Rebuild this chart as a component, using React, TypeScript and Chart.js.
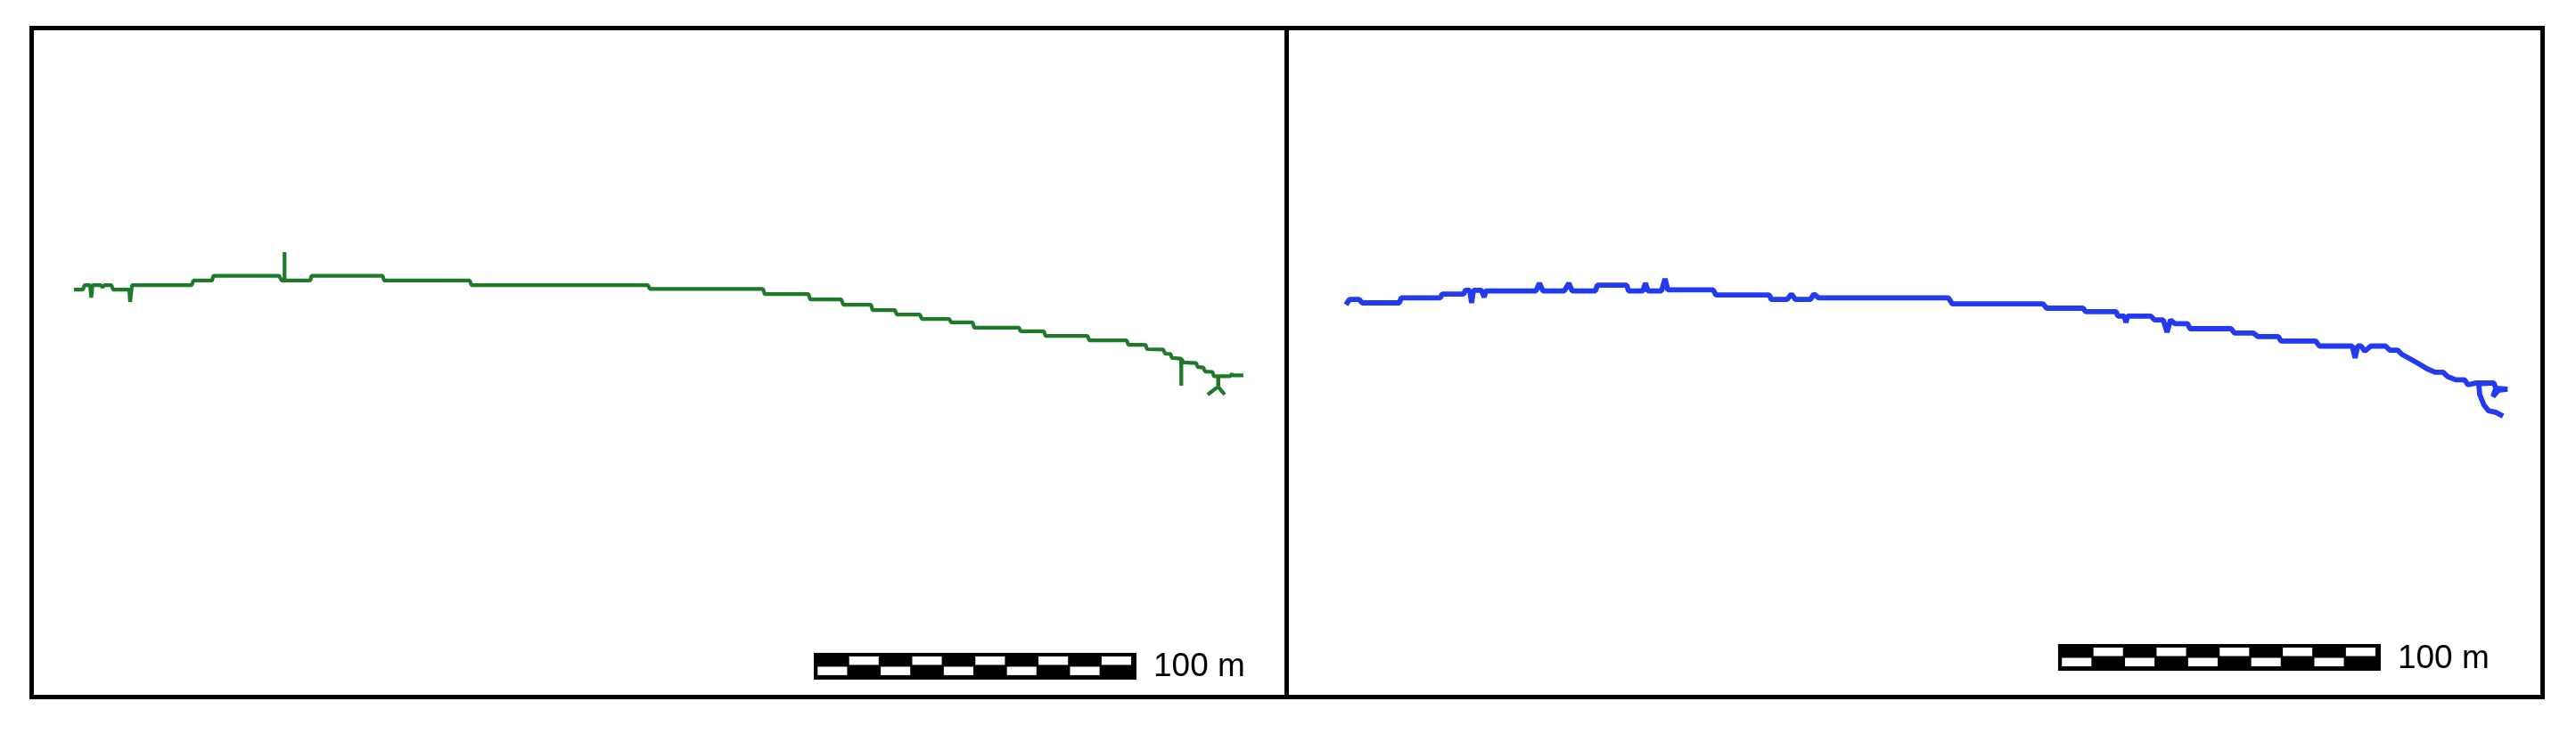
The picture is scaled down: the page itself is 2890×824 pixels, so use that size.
import { useEffect, useRef } from "react";
import { Chart, registerables } from "chart.js";

Chart.register(...registerables);

// map scale: pixels per metre on the rendered map
const PX_PER_M = 3.54;
const PANEL_H = 746;

// Track A (green) — easting / northing in metres from panel's lower-left corner
const trackAx = [
  12.7, 15.5, 16.1, 17.8, 18.2, 18.6, 21.2, 21.8, 22.3, 24.6, 25.1, 30.2, 30.5, 31.1,
  50.0, 50.6, 56.5, 56.9, 77.7, 78.5, 79.4, 79.4, 79.5, 87.6, 88.0, 110.5, 111.0,
  138.1, 138.7, 194.6, 195.2, 231.1, 231.6, 245.5, 246.0, 255.9, 256.5, 265.3, 265.8,
  272.9, 273.5, 280.8, 281.4, 290.1, 290.7, 297.5, 298.0, 312.2, 312.7, 320.1, 320.6,
  333.9, 334.5, 346.3, 346.9, 352.3, 352.8, 357.9, 358.5, 360.2, 360.7, 363.6, 363.6,
  363.7, 364.4, 368.4, 368.8, 370.6, 371.2, 373.5, 374.0, 375.3, 375.3, 372.0, 375.3,
  377.4, 375.3, 375.4, 379.1, 379.7, 379.9, 383.3,
];
const trackAy = [
  128.5, 128.5, 129.9, 129.9, 126.0, 129.9, 129.9, 129.2, 129.9, 129.9, 128.5, 128.5, 124.6, 129.9,
  129.9, 131.4, 131.4, 132.9, 132.9, 131.4, 131.4, 140.4, 131.4, 131.4, 132.9, 132.9, 131.4,
  131.4, 129.9, 129.9, 128.7, 128.7, 127.1, 127.1, 125.4, 125.4, 123.7, 123.7, 122.0,
  122.0, 120.6, 120.6, 119.2, 119.2, 118.1, 118.1, 116.4, 116.4, 115.3, 115.3, 113.8,
  113.8, 112.4, 112.4, 111.0, 111.0, 109.6, 109.5, 108.2, 108.1, 106.8, 106.6, 98.0,
  106.5, 105.4, 105.2, 104.0, 103.8, 102.5, 102.4, 101.0, 101.0, 97.7, 95.2, 97.7,
  95.2, 97.7, 101.0, 101.0, 101.8, 101.3, 101.3,
];

// Track B (blue)
const trackBx = [
  18.1, 19.2, 22.3, 23.2, 35.0, 35.6, 48.0, 48.6, 55.4, 55.9, 57.3, 57.9, 58.5, 61.0,
  61.9, 62.4, 78.3, 79.4, 80.5, 87.3, 88.7, 89.8, 97.2, 97.7, 107.1, 107.6, 112.2,
  113.0, 113.8, 118.1, 119.2, 120.1, 134.5, 135.3, 152.3, 152.8, 157.9, 159.3, 160.5,
  165.3, 166.4, 167.8, 209.0, 210.2, 239.0, 240.1, 251.7, 252.5, 262.2, 262.7, 264.7,
  265.3, 265.8, 273.2, 274.3, 277.1, 278.3, 279.4, 280.8, 284.8, 285.6, 298.6, 299.7,
  305.7, 307.1, 313.6, 314.4, 325.4, 326.6, 337.0, 337.9, 338.7, 339.8, 341.0, 342.9,
  347.5, 348.9, 351.4, 352.8, 355.4, 357.9, 360.7, 363.3, 365.8, 367.2, 369.8, 372.6,
  373.7, 376.3, 381.9, 382.5, 381.6, 383.3, 386.2, 382.5, 381.9, 377.1, 377.4, 378.8,
  380.2, 382.5, 384.8,
];
const trackBy = [
  123.7, 125.4, 125.4, 124.3, 124.3, 125.9, 125.9, 127.1, 127.1, 128.3, 128.3, 124.3, 128.3, 128.3,
  126.1, 128.1, 128.1, 130.5, 128.1, 128.1, 130.5, 128.1, 128.1, 129.9, 129.9, 128.1, 128.1,
  130.5, 128.1, 128.1, 131.9, 128.4, 128.4, 126.8, 126.8, 125.4, 125.4, 127.1, 125.4,
  125.4, 127.1, 125.9, 125.9, 124.0, 124.0, 122.6, 122.6, 121.5, 121.5, 120.1, 120.1,
  118.1, 120.1, 120.1, 118.9, 118.9, 115.0, 118.9, 117.7, 117.7, 116.1, 116.1, 114.7,
  114.7, 113.6, 113.6, 112.2, 112.2, 110.6, 110.6, 106.8, 110.6, 110.6, 109.0, 110.6,
  110.6, 109.3, 109.3, 107.9, 106.5, 105.1, 103.4, 102.3, 102.3, 100.9, 99.9, 99.9,
  98.3, 98.9, 98.9, 97.2, 94.6, 96.6, 96.9, 97.2, 98.9, 98.6, 95.2, 91.8,
  90.1, 89.6, 88.4,
];

const scaleBarLength = 100; // metres
const scaleBarLabel = "100 m";

const scaleBarPlugin = {
  id: "scaleBar",
  afterDatasetsDraw(chart: any, _args: any, o: any) {
    const { ctx } = chart;
    const xs = chart.scales.x;
    const ys = chart.scales.y;
    const x0 = xs.getPixelForValue(o.start);
    const x1 = xs.getPixelForValue(o.start + scaleBarLength);
    const top = ys.getPixelForValue(o.top);
    const b = 4;
    const h = 30;
    ctx.save();
    ctx.fillStyle = "#000";
    ctx.fillRect(x0 - b, top, x1 - x0 + 2 * b, h);
    const cw = (x1 - x0) / 10;
    ctx.fillStyle = "#fff";
    for (let i = 0; i < 10; i++) {
      const cx = x0 + i * cw;
      if (i % 2 === 1) ctx.fillRect(cx + 0.3, top + 4, cw - 2.3, 9.5);
      else ctx.fillRect(cx + 0.3, top + 15.5, cw - 2.3, 9.5);
    }
    ctx.fillStyle = "#000";
    ctx.font = '37px "Liberation Sans", Arial, sans-serif';
    ctx.textBaseline = "alphabetic";
    ctx.textAlign = "left";
    ctx.fillText(scaleBarLabel, x1 + b + 19, top + 26.5);
    ctx.restore();
  },
};

function MapPanel(props: {
  xs: number[];
  ys: number[];
  color: string;
  lineWidth: number;
  width: number;
  barStart: number;
  barTop: number;
}) {
  const ref = useRef<HTMLCanvasElement | null>(null);
  useEffect(() => {
    if (!ref.current) return;
    const chart = new Chart(ref.current, {
      type: "scatter",
      data: {
        datasets: [
          {
            data: props.xs.map((x, i) => ({ x, y: props.ys[i] })),
            showLine: true,
            borderColor: props.color,
            backgroundColor: props.color,
            borderWidth: props.lineWidth,
            pointRadius: 0,
            pointHoverRadius: 0,
            tension: 0,
            borderJoinStyle: "bevel",
            borderCapStyle: "butt",
          } as any,
        ],
      },
      options: {
        responsive: false,
        animation: false,
        events: [],
        layout: { padding: 0 },
        plugins: {
          legend: { display: false },
          tooltip: { enabled: false },
          scaleBar: { start: props.barStart, top: props.barTop },
        } as any,
        scales: {
          x: { type: "linear", display: false, min: 0, max: props.width / PX_PER_M },
          y: { type: "linear", display: false, min: 0, max: PANEL_H / PX_PER_M },
        },
      },
      plugins: [scaleBarPlugin],
    });
    return () => chart.destroy();
  }, []);
  return (
    <canvas
      ref={ref}
      width={props.width}
      height={PANEL_H}
      style={{ display: "block", width: props.width, height: PANEL_H }}
    />
  );
}

export default function App() {
  return (
    <div
      style={{
        position: "absolute",
        left: 33,
        top: 29,
        width: 2822,
        height: 756,
        boxSizing: "border-box",
        border: "5px solid #000",
        display: "flex",
        background: "#fff",
      }}
    >
      <div style={{ width: 1403, height: PANEL_H, borderRight: "5px solid #000" }}>
        <MapPanel
          xs={trackAx}
          ys={trackAy}
          color="rgb(30,122,40)"
          lineWidth={4.2}
          width={1403}
          barStart={248.3}
          barTop={13.3}
        />
      </div>
      <div style={{ width: 1404, height: PANEL_H }}>
        <MapPanel
          xs={trackBx}
          ys={trackBy}
          color="rgb(34,58,240)"
          lineWidth={5.8}
          width={1404}
          barStart={244.9}
          barTop={16.1}
        />
      </div>
    </div>
  );
}
